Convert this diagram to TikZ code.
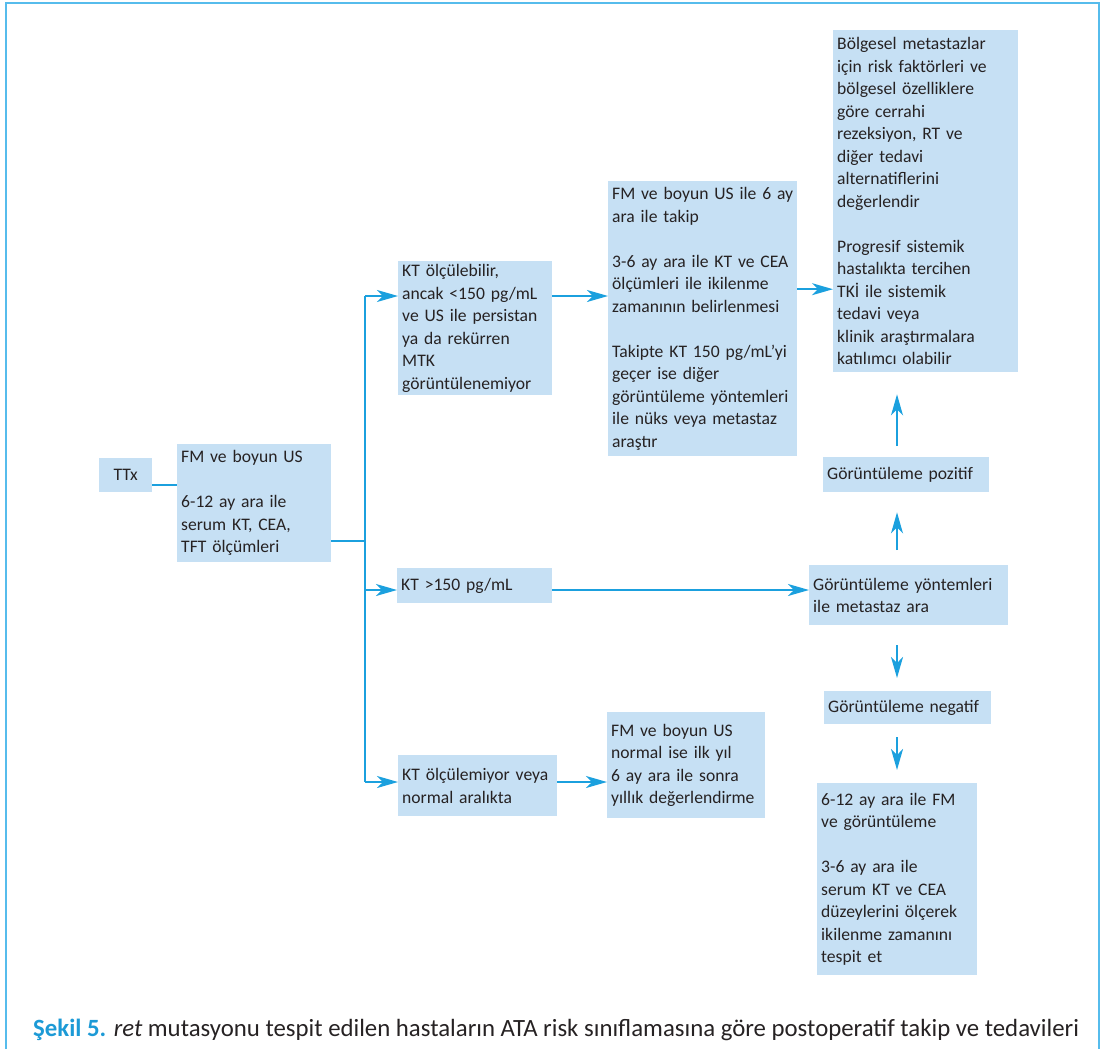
\documentclass[tikz,border=0pt]{standalone}
\usepackage{fontspec}
\setmainfont{Carlito}
\usetikzlibrary{arrows.meta}
\hyphenpenalty=10000

\definecolor{kutumavi}{RGB}{198,224,244}
\definecolor{okmavi}{RGB}{27,160,222}
\definecolor{cerceve}{RGB}{86,188,236}
\definecolor{baslik}{RGB}{28,154,214}
\definecolor{yazi}{RGB}{38,34,35}

\begin{document}
\begin{tikzpicture}[x=1pt,y=-1pt,
    kutu/.style={fill=kutumavi, text=yazi, anchor=north west, align=left,
      inner xsep=4pt, inner ysep=2pt, font=\fontsize{17.6}{22.5}\selectfont},
    cizgi/.style={draw=okmavi, line width=1.6pt},
    ok/.style={cizgi, -{Stealth[length=21pt,width=12pt,inset=6pt]}}]
        \useasboundingbox (0,0) rectangle (1102,1049);
        \draw[cerceve, line width=2.6pt] (6,1049) -- (6,3) -- (1099,3) -- (1099,1049);

        % kutular
        \node[kutu, text width=45pt, align=center, minimum height=34pt] (ttx) at (99,458) {TTx};
        \node[kutu, text width=146pt, minimum height=118pt] (fm) at (177,444)
          {FM ve boyun US\\[22.5pt] 6-12 ay ara ile\\ serum KT, CEA,\\ TFT ölçümleri};
        \node[kutu, text width=146pt, minimum height=134pt] (kt1) at (398,261)
          {KT ölçülebilir,\\ ancak <150 pg/mL\\ ve US ile persistan\\ ya da rekürren\\ MTK\\ görüntülenemiyor};
        \node[kutu, text width=147pt, minimum height=35pt] (kt2) at (397,568) {KT >150 pg/mL};
        \node[kutu, text width=151pt, minimum height=61pt] (kt3) at (398,755)
          {KT ölçülemiyor veya\\ normal aralıkta};
        \node[kutu, text width=181pt, minimum height=275pt] (takip) at (608,181)
          {FM ve boyun US ile 6 ay\\ ara ile takip\\[22.5pt]
           3-6 ay ara ile KT ve CEA\\ ölçümleri ile ikilenme\\ zamanının belirlenmesi\\[22.5pt]
           Takipte KT 150 pg/mL’yi\\ geçer ise diğer\\ görüntüleme yöntemleri\\ ile nüks veya metastaz\\ araştır};
        \node[kutu, text width=150pt, minimum height=106pt] (normal) at (607,712)
          {FM ve boyun US\\ normal ise ilk yıl\\ 6 ay ara ile sonra\\ yıllık değerlendirme};
        \node[kutu, text width=177pt, minimum height=342pt] (bolg) at (833,30)
          {Bölgesel metastazlar\\ için risk faktörleri ve\\ bölgesel özelliklere\\ göre cerrahi\\ rezeksiyon, RT ve\\ diğer tedavi\\ alternatiflerini\\ değerlendir\\[22.5pt]
           Progresif sistemik\\ hastalıkta tercihen\\ TKİ ile sistemik\\ tedavi veya\\ klinik araştırmalara\\ katılımcı olabilir};
        \node[kutu, text width=158pt, minimum height=35pt] (pozitif) at (823,457) {Görüntüleme pozitif};
        \node[kutu, text width=191pt, minimum height=60pt] (yont) at (809,565)
          {Görüntüleme yöntemleri\\ ile metastaz ara};
        \node[kutu, text width=159pt, minimum height=33pt] (negatif) at (824,691) {Görüntüleme negatif};
        \node[kutu, text width=152pt, minimum height=192pt] (izlem) at (817,783)
          {6-12 ay ara ile FM\\ ve görüntüleme\\[22.5pt]
           3-6 ay ara ile\\ serum KT ve CEA\\ düzeylerini ölçerek\\ ikilenme zamanını\\ tespit et};

        % baglantilar
        \coordinate (t0) at ([yshift=-10pt]ttx.east);
        \coordinate (f0) at ([yshift=-38pt]fm.east);
        \coordinate (g1) at (365,296);
        \coordinate (g2) at (365,590);
        \coordinate (g3) at (365,782);
        \coordinate (h0) at ([yshift=29.5pt]takip.east);
        \coordinate (d) at (897,0);

        \draw[cizgi] (t0) -- (t0 -| fm.west);
        \draw[cizgi] (f0) -- (f0 -| g1);
        \draw[cizgi] (g1) -- (g3);
        \draw[ok] (g1) -- (g1 -| kt1.west);
        \draw[ok] (g2) -- (g2 -| kt2.west);
        \draw[ok] (g3) -- (g3 -| kt3.west);
        \draw[ok] (g1 -| kt1.east) -- (g1 -| takip.west);
        \draw[ok] (g2 -| kt2.east) -- (g2 -| yont.west);
        \draw[ok] (g3 -| kt3.east) -- (g3 -| normal.west);
        \draw[ok] (h0) -- (h0 -| bolg.west);

        \draw[ok, shorten <=15pt, shorten >=20pt] (yont.north -| d) -- (pozitif.south -| d);
        \draw[ok, shorten <=11pt, shorten >=22pt] (pozitif.north -| d) -- (bolg.south -| d);
        \draw[ok, shorten <=20pt, shorten >=13pt] (yont.south -| d) -- (negatif.north -| d);
        \draw[ok, shorten <=13pt, shorten >=13pt] (negatif.south -| d) -- (izlem.north -| d);

        % altyazi
        \node[anchor=base west, inner sep=0pt, text=yazi, font=\fontsize{24.8}{28}\selectfont] (altyazi) at (33,1036)
          {\textcolor{baslik}{\bfseries Şekil 5.} \textit{ret} mutasyonu tespit edilen hastaların ATA risk sınıflamasına göre postoperatif takip ve tedavileri};
      \end{tikzpicture}
\end{document}
